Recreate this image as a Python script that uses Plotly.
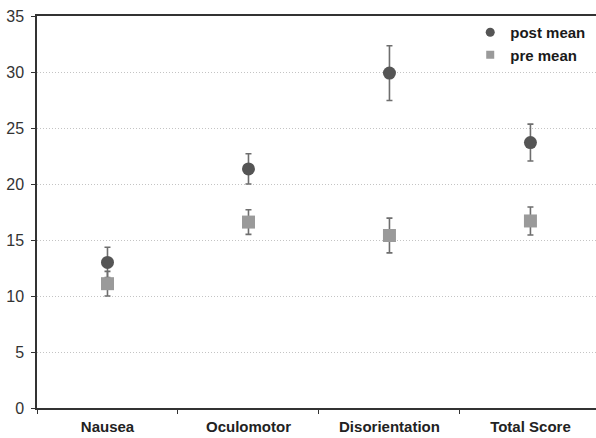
import plotly.graph_objects as go

categories = ["Nausea", "Oculomotor", "Disorientation", "Total Score"]
post_mean = [13.0, 21.35, 29.9, 23.7]
post_err = [1.35, 1.35, 2.45, 1.65]
pre_mean = [11.1, 16.6, 15.4, 16.7]
pre_err = [1.1, 1.1, 1.55, 1.25]
y_ticks = [0, 5, 10, 15, 20, 25, 30, 35]

POST_COLOR = "#555555"
PRE_COLOR = "#9a9a9a"
ERR_COLOR = "#6e6e6e"

fig = go.Figure()

fig.add_trace(go.Scatter(
    x=categories, y=post_mean, mode="markers", name="post mean",
    showlegend=False,
    marker=dict(symbol="circle", size=13, color=POST_COLOR),
    error_y=dict(type="data", array=post_err, visible=True,
                 color=ERR_COLOR, thickness=1.6, width=3),
))
fig.add_trace(go.Scatter(
    x=categories, y=pre_mean, mode="markers", name="pre mean",
    showlegend=False,
    marker=dict(symbol="square", size=13, color=PRE_COLOR),
    error_y=dict(type="data", array=pre_err, visible=True,
                 color=ERR_COLOR, thickness=1.6, width=3),
))
# legend entries
fig.add_trace(go.Scatter(x=[None], y=[None], mode="markers", name="post mean",
                         marker=dict(symbol="circle", size=9, color=POST_COLOR)))
fig.add_trace(go.Scatter(x=[None], y=[None], mode="markers", name="pre mean",
                         marker=dict(symbol="square", size=8, color=PRE_COLOR)))

fig.update_layout(
    width=596, height=438,
    margin=dict(l=37, r=0, t=16, b=30),
    paper_bgcolor="white", plot_bgcolor="white",
    font=dict(family="Liberation Sans, Arial, sans-serif", color="#222222"),
    legend=dict(
        x=0.775, y=1.0, xanchor="left", yanchor="top",
        bgcolor="rgba(0,0,0,0)", itemwidth=30,
        font=dict(size=15, color="#1a1a1a", family="Liberation Sans, Arial, sans-serif", weight="bold"),
        tracegroupgap=0,
    ),
    xaxis=dict(
        type="category", categoryorder="array", categoryarray=categories,
        range=[-0.5, 3.465],
        showline=True, linecolor="#333333", linewidth=1.5, mirror=True,
        ticks="outside", ticklen=4, tickcolor="#333333", tickwidth=1,
        tickson="boundaries", showgrid=False,
        tickfont=dict(size=15, color="#222222", weight="bold"),
        ticklabelstandoff=4,
    ),
    yaxis=dict(
        range=[0, 35], tickvals=y_ticks,
        showline=True, linecolor="#333333", linewidth=1.5,
        ticks="outside", ticklen=4, tickcolor="#333333",
        showgrid=True, gridcolor="#c4c4c4", griddash="1px,2px", gridwidth=1,
        zeroline=False,
        tickfont=dict(size=16, color="#333333"),
        ticklabelstandoff=4,
    ),
)

fig.write_html("out.html")
